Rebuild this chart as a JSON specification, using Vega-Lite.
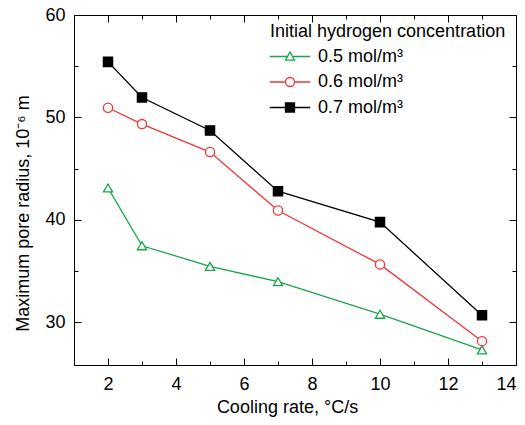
{
  "$schema": "https://vega.github.io/schema/vega-lite/v6.json",
  "width": 442,
  "height": 350,
  "autosize": {"type": "none"},
  "padding": {"left": 74, "top": 15, "right": 9, "bottom": 60},
  "background": "white",
  "config": {
    "view": {"stroke": "black", "strokeWidth": 1},
    "font": "Liberation Sans",
    "axis": {
      "grid": false,
      "domain": false,
      "labelFont": "Liberation Sans",
      "labelFontSize": 18,
      "labelColor": "black",
      "titleFont": "Liberation Sans",
      "titleFontSize": 18,
      "titleFontWeight": "normal",
      "titleColor": "black",
      "tickColor": "black",
      "tickWidth": 1
    }
  },
  "data": {
    "values": [
      {"series": "0.5 mol/m³", "rate": 2, "radius": 43.1},
      {"series": "0.5 mol/m³", "rate": 3, "radius": 37.45},
      {"series": "0.5 mol/m³", "rate": 5, "radius": 35.44},
      {"series": "0.5 mol/m³", "rate": 7, "radius": 33.94},
      {"series": "0.5 mol/m³", "rate": 10, "radius": 30.76},
      {"series": "0.5 mol/m³", "rate": 13, "radius": 27.28},
      {"series": "0.6 mol/m³", "rate": 2, "radius": 50.94},
      {"series": "0.6 mol/m³", "rate": 3, "radius": 49.34},
      {"series": "0.6 mol/m³", "rate": 5, "radius": 46.61},
      {"series": "0.6 mol/m³", "rate": 7, "radius": 40.9},
      {"series": "0.6 mol/m³", "rate": 10, "radius": 35.63},
      {"series": "0.6 mol/m³", "rate": 13, "radius": 28.13},
      {"series": "0.7 mol/m³", "rate": 2, "radius": 55.42},
      {"series": "0.7 mol/m³", "rate": 3, "radius": 51.94},
      {"series": "0.7 mol/m³", "rate": 5, "radius": 48.72},
      {"series": "0.7 mol/m³", "rate": 7, "radius": 42.78},
      {"series": "0.7 mol/m³", "rate": 10, "radius": 39.76},
      {"series": "0.7 mol/m³", "rate": 13, "radius": 30.66}
    ]
  },
  "layer": [
    {
      "mark": {"type": "line", "strokeWidth": 1.3},
      "encoding": {
        "x": {
          "field": "rate", "type": "quantitative",
          "scale": {"domain": [1, 14], "nice": false, "zero": false},
          "axis": {"orient": "bottom", "values": [2, 4, 6, 8, 10, 12, 14], "ticks": false, "labelPadding": 10.5, "title": "Cooling rate, °C/s", "titlePadding": 5, "titleX": 213}
        },
        "y": {
          "field": "radius", "type": "quantitative",
          "scale": {"domain": [25.8, 60], "nice": false, "zero": false},
          "axis": {"orient": "left", "values": [30, 40, 50, 60], "ticks": false, "labelPadding": 9, "title": "Maximum pore radius, 10⁻⁶ m", "titlePadding": 12.5, "titleY": 198}
        },
        "color": {
          "field": "series", "type": "nominal",
          "scale": {"domain": ["0.5 mol/m³", "0.6 mol/m³", "0.7 mol/m³"], "range": ["#19a54b", "#f0363a", "#000000"]},
          "legend": null
        }
      }
    },
    {
      "mark": {"type": "point", "size": 85, "strokeWidth": 1.3, "opacity": 1},
      "encoding": {
        "x": {
          "field": "rate", "type": "quantitative",
          "axis": {"orient": "top", "offset": -350, "values": [1, 2, 3, 4, 5, 6, 7, 8, 9, 10, 11, 12, 13, 14], "labels": false, "title": null, "tickSize": {"condition": {"test": "datum.value % 2 === 0", "value": 7}, "value": 4}}
        },
        "y": {
          "field": "radius", "type": "quantitative",
          "axis": {"orient": "right", "offset": -442, "values": [30, 35, 40, 45, 50, 55, 60], "labels": false, "title": null, "tickSize": {"condition": {"test": "datum.value % 10 === 0", "value": 7}, "value": 4}}
        },
        "shape": {
          "field": "series", "type": "nominal",
          "scale": {"domain": ["0.5 mol/m³", "0.6 mol/m³", "0.7 mol/m³"], "range": ["triangle-up", "circle", "square"]},
          "legend": null
        },
        "stroke": {
          "field": "series", "type": "nominal",
          "scale": {"domain": ["0.5 mol/m³", "0.6 mol/m³", "0.7 mol/m³"], "range": ["#19a54b", "#f0363a", "#000000"]},
          "legend": null
        },
        "fill": {
          "field": "series", "type": "nominal",
          "scale": {"domain": ["0.5 mol/m³", "0.6 mol/m³", "0.7 mol/m³"], "range": ["#ffffff", "#ffffff", "#000000"]},
          "legend": null
        }
      }
    },
    {
      "transform": [{"filter": "false"}],
      "mark": {"type": "point", "size": 81, "strokeWidth": 1.3, "opacity": 1},
      "encoding": {
        "x": {
          "field": "rate", "type": "quantitative",
          "axis": {"orient": "bottom", "offset": -350, "values": [1, 2, 3, 4, 5, 6, 7, 8, 9, 10, 11, 12, 13, 14], "labels": false, "title": null, "tickSize": {"condition": {"test": "datum.value % 2 === 0", "value": 7}, "value": 4}}
        },
        "y": {
          "field": "radius", "type": "quantitative",
          "axis": {"orient": "left", "offset": -442, "values": [30, 35, 40, 45, 50, 55, 60], "labels": false, "title": null, "tickSize": {"condition": {"test": "datum.value % 10 === 0", "value": 7}, "value": 4}}
        },
        "shape": {
          "field": "series", "type": "nominal",
          "scale": {"domain": ["0.5 mol/m³", "0.6 mol/m³", "0.7 mol/m³"], "range": [
            "M-4.5,0H-0.556M0.556,0H4.5M0,-1L1,0.8L-1,0.8Z",
            "M-4.5,0H-1M1,0H4.5M-1,0A1,1 0 1,0 1,0A1,1 0 1,0 -1,0Z",
            "M-4.5,0H4.5M-1,-1H1V1H-1Z"
          ]},
          "legend": {"orient": "none", "legendX": 196, "legendY": 8, "title": "Initial hydrogen concentration", "titleFontSize": 18, "titleFont": "Liberation Sans", "titleFontWeight": "normal", "titleColor": "black", "titlePadding": 6.5, "labelFontSize": 18, "labelFont": "Liberation Sans", "labelColor": "black", "symbolSize": 81, "symbolStrokeWidth": 1.3, "labelOffset": 19, "rowPadding": 7.5, "symbolOffset": 11, "titleLimit": 350, "labelLimit": 250}
        },
        "stroke": {
          "field": "series", "type": "nominal",
          "scale": {"domain": ["0.5 mol/m³", "0.6 mol/m³", "0.7 mol/m³"], "range": ["#19a54b", "#f0363a", "#000000"]},
          "legend": {"orient": "none", "legendX": 196, "legendY": 8, "title": "Initial hydrogen concentration", "titleFontSize": 18, "titleFont": "Liberation Sans", "titleFontWeight": "normal", "titleColor": "black", "titlePadding": 6.5, "labelFontSize": 18, "labelFont": "Liberation Sans", "labelColor": "black", "symbolSize": 81, "symbolStrokeWidth": 1.3, "labelOffset": 19, "rowPadding": 7.5, "symbolOffset": 11, "titleLimit": 350, "labelLimit": 250}
        },
        "fill": {
          "field": "series", "type": "nominal",
          "scale": {"domain": ["0.5 mol/m³", "0.6 mol/m³", "0.7 mol/m³"], "range": ["#ffffff", "#ffffff", "#000000"]},
          "legend": {"orient": "none", "legendX": 196, "legendY": 8, "title": "Initial hydrogen concentration", "titleFontSize": 18, "titleFont": "Liberation Sans", "titleFontWeight": "normal", "titleColor": "black", "titlePadding": 6.5, "labelFontSize": 18, "labelFont": "Liberation Sans", "labelColor": "black", "symbolSize": 81, "symbolStrokeWidth": 1.3, "labelOffset": 19, "rowPadding": 7.5, "symbolOffset": 11, "titleLimit": 350, "labelLimit": 250}
        }
      }
    }
  ],
  "resolve": {
    "axis": {"x": "independent", "y": "independent"},
    "scale": {"shape": "independent", "stroke": "independent", "fill": "independent"}
  }
}
